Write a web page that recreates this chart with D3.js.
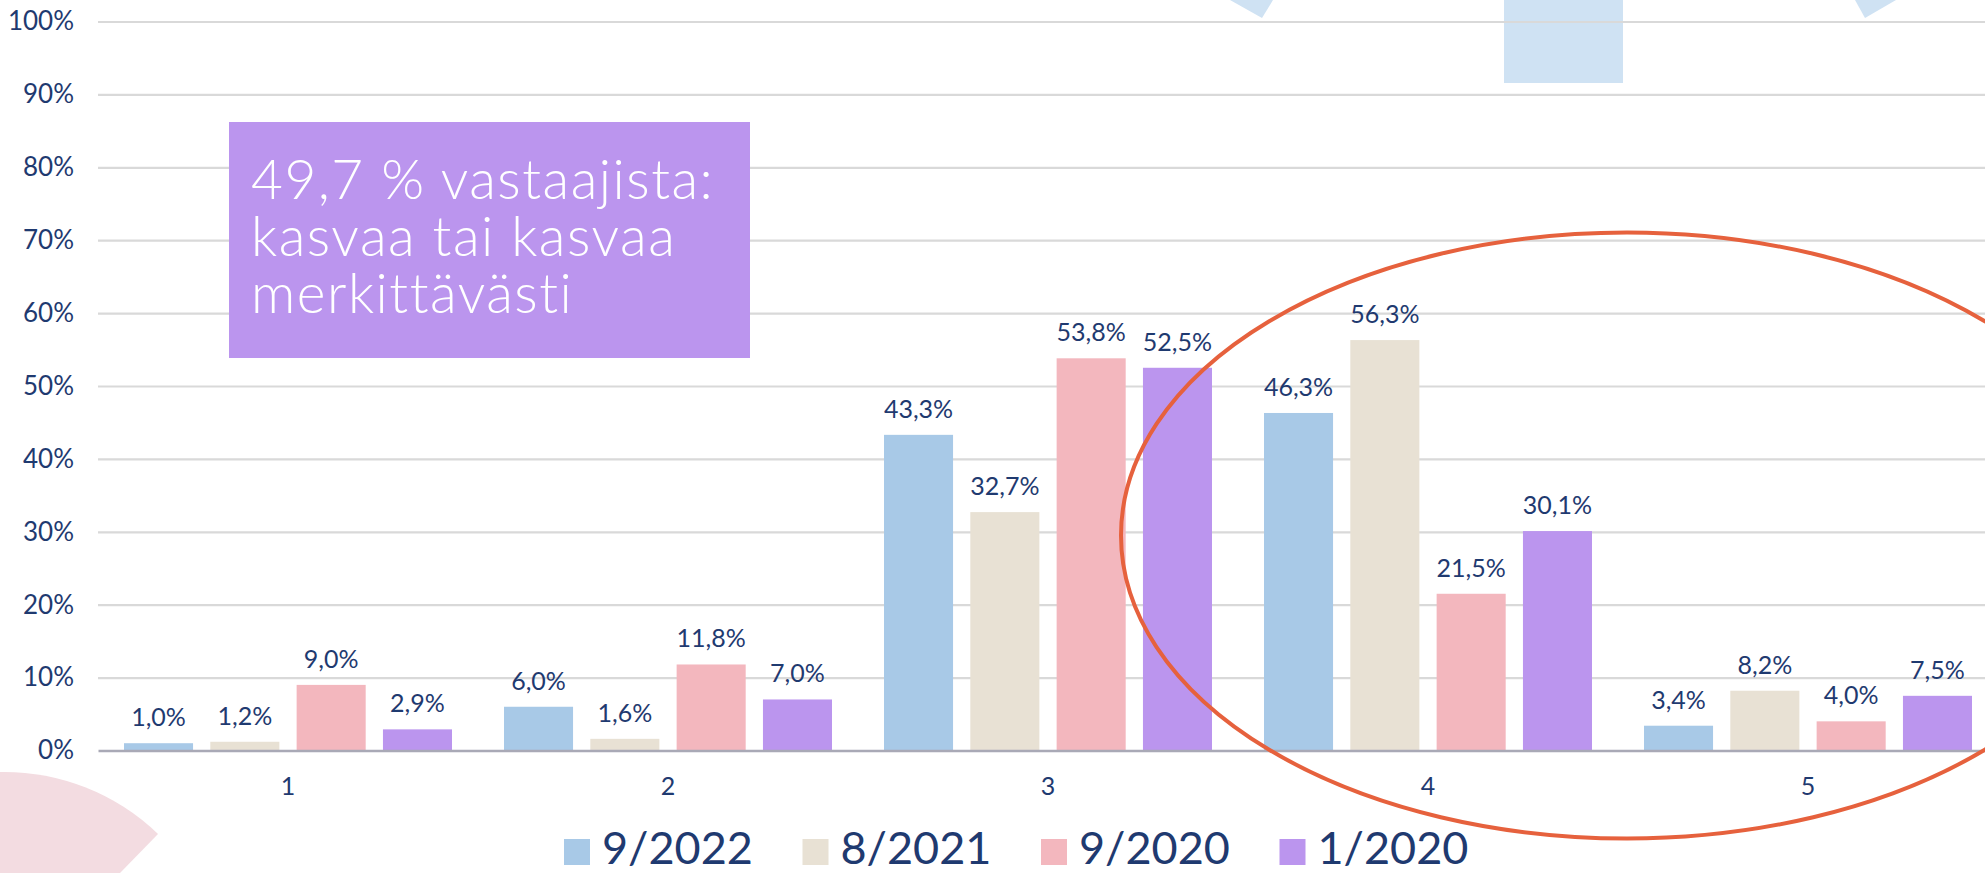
<!DOCTYPE html>
<html>
<head>
<meta charset="utf-8">
<script src="https://cdn.jsdelivr.net/npm/d3@7"></script>
<style>
  html, body { margin: 0; padding: 0; background: #fff; }
  svg { display: block; font-family: Lato, 'Open Sans', sans-serif; }
</style>
</head>
<body>
<svg id="chart" width="1985" height="873"></svg>
<script>
'use strict'

// answer categories on the x axis
const categories = ['1', '2', '3', '4', '5']
// survey rounds (legend order)
const series = ['9/2022', '8/2021', '9/2020', '1/2020']
// values per category, in series order
const values = [
  [1.0, 1.2, 9.0, 2.9],
  [6.0, 1.6, 11.8, 7.0],
  [43.3, 32.7, 53.8, 52.5],
  [46.3, 56.3, 21.5, 30.1],
  [3.4, 8.2, 4.0, 7.5]
]
const yTicks = [0, 10, 20, 30, 40, 50, 60, 70, 80, 90, 100]
const boxLines = ['49,7 % vastaajista:', 'kasvaa tai kasvaa', 'merkittävästi']

const colors = ['#a8c9e7', '#e8e1d4', '#f3b7be', '#bb95ee']
const navy = '#1f3a70'

const svg = d3.select('#chart')

// background decorations
const deco = svg.append('g').attr('class', 'deco')
deco.append('path')
  .attr('d', 'M1230,0 L1273,0 L1262,18 Z')
  .attr('fill', '#cfe2f3')
deco.append('path')
  .attr('d', 'M1855,0 L1896,0 L1865,18 Z')
  .attr('fill', '#cfe2f3')
deco.append('rect')
  .attr('x', 1504).attr('y', 0)
  .attr('width', 119).attr('height', 83)
  .attr('fill', '#cfe2f3')
deco.append('path')
  .attr('d', 'M0,772 A222,222 0 0 1 158,834 L120,873 L0,873 Z')
  .attr('fill', '#f3dce1')

const x0 = d3.scaleBand()
  .domain(categories)
  .range([98, 1998])
  .padding(0)
const x1 = d3.scaleBand()
  .domain(series)
  .range([26, 354])
  .paddingInner(0.2)
const y = d3.scaleLinear()
  .domain([0, 100])
  .range([750.5, 21.5])

// gridlines
const grid = svg.append('g')
  .attr('class', 'grid')
  .attr('transform', 'translate(98,0)')
  .call(d3.axisLeft(y).tickValues(yTicks.slice(1)).tickSize(-(1998 - 98)).tickFormat(''))
grid.select('.domain').remove()
grid.selectAll('line')
  .attr('stroke', '#d9d9d9')
  .attr('stroke-width', 2.2)

// y axis labels
const yAxis = svg.append('g')
  .attr('class', 'y axis')
  .attr('transform', 'translate(98,0)')
  .call(d3.axisLeft(y).tickValues(yTicks).tickSize(0).tickPadding(24)
    .tickFormat(function (d) { return d + '%' }))
yAxis.select('.domain').remove()
yAxis.selectAll('text')
  .attr('fill', navy)
  .style('font-size', '26px')
  .style('font-family', 'Lato, sans-serif')

// bars
const groups = svg.append('g')
  .selectAll('g')
  .data(categories)
  .join('g')
  .attr('transform', function (d) { return 'translate(' + x0(d) + ',0)' })

groups.selectAll('rect')
  .data(function (d, i) { return values[i].map(function (v, j) { return {s: series[j], v: v, j: j} }) })
  .join('rect')
  .attr('x', function (d) { return x1(d.s) })
  .attr('y', function (d) { return y(d.v) })
  .attr('width', x1.bandwidth())
  .attr('height', function (d) { return y(0) - y(d.v) })
  .attr('fill', function (d) { return colors[d.j] })

groups.selectAll('text')
  .data(function (d, i) { return values[i].map(function (v, j) { return {s: series[j], v: v} }) })
  .join('text')
  .attr('x', function (d) { return x1(d.s) + x1.bandwidth() / 2 })
  .attr('y', function (d) { return y(d.v) - 17 })
  .attr('text-anchor', 'middle')
  .attr('fill', navy)
  .style('font-size', '25px')
  .text(function (d) { return d.v.toFixed(1).replace('.', ',') + '%' })

// x axis
const xAxis = svg.append('g')
  .attr('class', 'x axis')
  .attr('transform', 'translate(0,' + y(0) + ')')
  .call(d3.axisBottom(x0).tickSize(0).tickPadding(27))
xAxis.select('.domain')
  .attr('stroke', '#a9a9b6')
  .attr('stroke-width', 2.5)
xAxis.selectAll('text')
  .attr('fill', navy)
  .style('font-size', '25px')
  .style('font-family', 'Lato, sans-serif')

// legend
const legend = svg.append('g')
  .attr('class', 'legend')
  .selectAll('g')
  .data(series)
  .join('g')
  .attr('transform', function (d, i) { return 'translate(' + (564 + i * 238.5) + ',839)' })
legend.append('rect')
  .attr('width', 26)
  .attr('height', 26)
  .attr('fill', function (d, i) { return colors[i] })
legend.append('text')
  .attr('x', 38)
  .attr('y', 25)
  .attr('fill', navy)
  .style('font-size', '45px')
  .text(function (d) { return d })

// highlight ellipse
svg.append('ellipse')
  .attr('cx', 1627)
  .attr('cy', 535.5)
  .attr('rx', 506)
  .attr('ry', 303)
  .attr('fill', 'none')
  .attr('stroke', '#e6613d')
  .attr('stroke-width', 4)

// call-out box
const box = svg.append('g').attr('class', 'callout')
box.append('rect')
  .attr('x', 229).attr('y', 122)
  .attr('width', 521).attr('height', 236)
  .attr('fill', '#bb95ee')
box.selectAll('text')
  .data(boxLines)
  .join('text')
  .attr('x', 251)
  .attr('y', function (d, i) { return 199 + i * 57 })
  .attr('fill', '#ffffff')
  .style('font-size', '55px')
  .style('font-weight', 300)
  .style('letter-spacing', '1.5px')
  .text(function (d) { return d })
</script>
</body>
</html>
